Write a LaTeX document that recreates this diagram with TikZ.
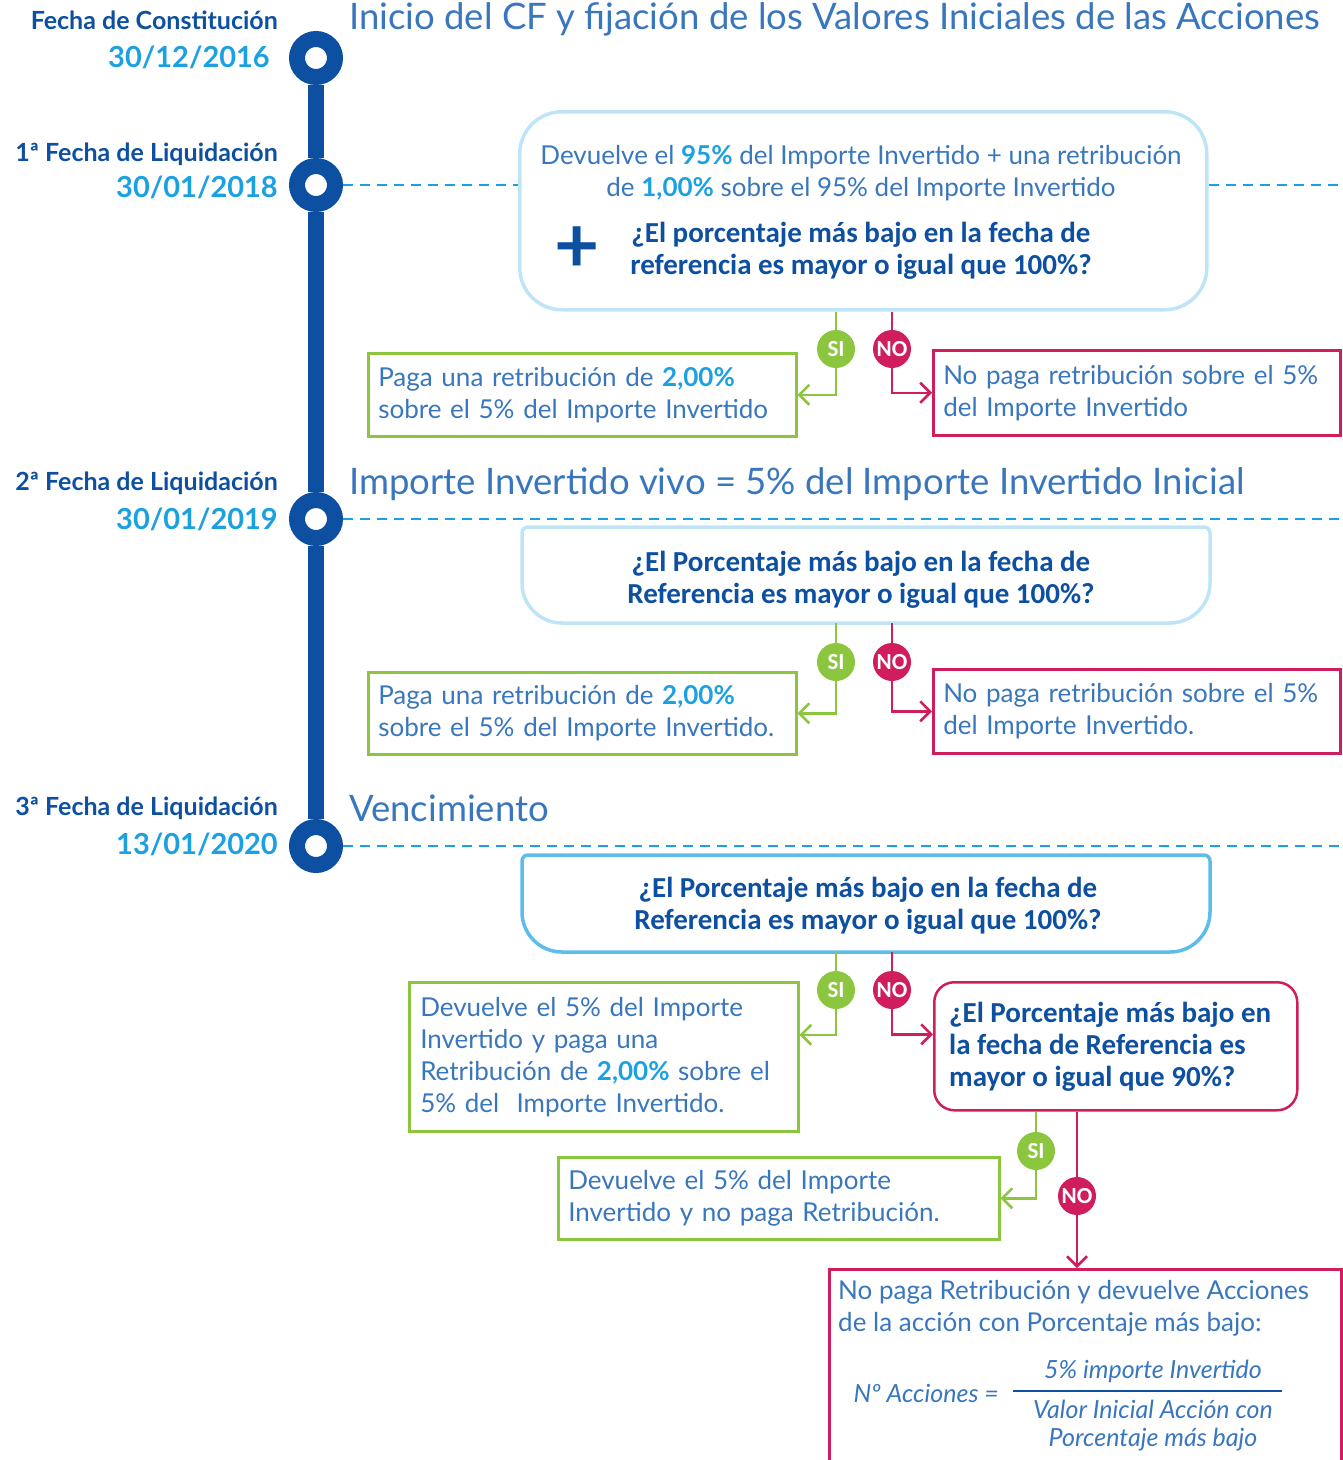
\documentclass[tikz,border=0pt]{standalone}
\usepackage{fontspec}
\setmainfont{Lato}
\newfontfamily\qf{Carlito}
\usetikzlibrary{arrows.meta}
\definecolor{dblue}{HTML}{0D4FA0}
\definecolor{tblue}{HTML}{3876BE}
\definecolor{cyanb}{HTML}{1BA1E2}
\definecolor{lbox}{HTML}{BEE5F7}
\definecolor{mboxc}{HTML}{5DBDEA}
\definecolor{gr}{HTML}{8CC63E}
\definecolor{mg}{HTML}{CF1D5E}
\begin{document}
\begin{tikzpicture}[x=1pt,y=1pt,
  tcirc/.style={circle, fill=white, draw=dblue, line width=16pt, minimum size=38pt, inner sep=0},
  tline/.style={dblue, line width=16pt},
  dline/.style={cyanb, line width=2.5pt, dash pattern=on 10pt off 7pt},
  lab/.style={font=\bfseries\fontsize{25}{25}\selectfont, text=dblue, inner sep=0},
  datel/.style={font=\bfseries\fontsize{29}{29}\selectfont, text=cyanb, inner sep=0},
  ttl/.style={font=\fontsize{36.5}{36.5}\selectfont, text=tblue, inner sep=0},
  body/.style={font=\fontsize{26}{32}\selectfont, text=tblue},
  qtext/.style={font=\qf\bfseries\fontsize{29}{32}\selectfont, text=dblue},
  ftext/.style={font=\itshape\fontsize{25}{28}\selectfont, text=tblue, inner sep=0},
  badge/.style={circle, fill=#1, minimum size=38pt, inner sep=0, text=white, font=\qf\bfseries\fontsize{23}{23}\selectfont},
  gbox/.style={draw=gr, line width=2.5pt, body, align=left, anchor=north west, inner ysep=0},
  mbox/.style={draw=mg, line width=2.5pt, body, align=left, anchor=north west, inner ysep=0},
  gl/.style={gr, line width=2.5pt},
  ml/.style={mg, line width=2.5pt},
  garr/.style={gl, -{Straight Barb[length=10pt,width=20pt]}},
  marr/.style={ml, -{Straight Barb[length=10pt,width=20pt]}}
]
\useasboundingbox (0,0) rectangle (1343,-1460);

% ---------- timeline ----------
\node[tcirc] (c1) at (316,-58) {};
\node[tcirc] (c2) at (316,-185) {};
\node[tcirc] (c3) at (316,-519) {};
\node[tcirc] (c4) at (316,-846) {};
\draw[tline] (c1) -- (c2);
\draw[tline] (c2) -- (c3);
\draw[tline] (c3) -- (c4);

\node[lab, anchor=east] (l1) at (278,-20) {Fecha de Constitución};
\node[datel, anchor=east] (d1) at (270,-57) {30/12/2016};
\node[lab, anchor=east] (l2) at (278,-154) {1ª Fecha de Liquidación};
\node[datel, anchor=east] (d2) at (278,-187) {30/01/2018};
\node[lab, anchor=east] (l3) at (278,-483) {2ª Fecha de Liquidación};
\node[datel, anchor=east] (d3) at (278,-519) {30/01/2019};
\node[lab, anchor=east] (l4) at (278,-808) {3ª Fecha de Liquidación};
\node[datel, anchor=east] (d4) at (278,-844) {13/01/2020};

% ---------- titles ----------
\node[ttl, anchor=west] (t1) at (349,-19) {Inicio del CF y fijación de los Valores Iniciales de las Acciones};
\node[ttl, anchor=west] (t2) at (349,-484) {Importe Invertido vivo = 5\% del Importe Invertido Inicial};
\node[ttl, anchor=west] (t3) at (349,-808) {Vencimiento};

% ---------- box 1 ----------
\node[draw=lbox, line width=3.5pt, rounded corners=42pt, minimum width=687pt, minimum height=198pt, anchor=north west] (b1) at (518,-110) {};
\node[body, align=center, inner sep=0] (b1t) at (861,-173) {Devuelve el {\color{cyanb}\bfseries 95\%} del Importe Invertido + una retribución\\de {\color{cyanb}\bfseries 1,00\%} sobre el 95\% del Importe Invertido};
\node[qtext, align=center, inner sep=0] (b1q) at (861,-251) {¿El porcentaje más bajo en la fecha de\\referencia es mayor o igual que 100\%?};
\node[font=\bfseries\fontsize{78}{78}\selectfont, text=dblue, inner sep=0] (plus) at (577,-250) {+};

\coordinate (r1) at (1343,-185);
\draw[dline] (c2) -- (b1.west |- c2);
\draw[dline] (b1.east |- c2) -- (r1);

\node[badge=gr] (si1) at (836,-349) {SI};
\node[badge=mg] (no1) at (892,-349) {NO};
\node[gbox, text width=408pt, inner xsep=10pt, minimum height=83pt] (g1) at (367,-352) {Paga una retribución de {\color{cyanb}\bfseries 2,00\%}\\sobre el 5\% del Importe Invertido};
\node[mbox, text width=387pt, inner xsep=10pt, minimum height=85pt] (m1) at (932,-349) {No paga retribución sobre el 5\%\\del Importe Invertido};
\draw[gl] (si1 |- b1.south) -- (si1);
\draw[ml] (no1 |- b1.south) -- (no1);
\draw[garr] (si1) |- (g1.east);
\draw[marr] (no1) |- (m1.west);

% ---------- box 2 ----------
\coordinate (r2) at (1343,-519);
\draw[dline] (c3) -- (r2);
\node[minimum width=688pt, minimum height=96pt, anchor=north west, inner sep=0] (b2) at (522,-527) {};
\draw[lbox, line width=3.5pt] (528,-527) -- (1204,-527) arc[start angle=90,end angle=0,radius=6] -- (1210,-583) arc[start angle=0,end angle=-90,radius=40] -- (562,-623) arc[start angle=270,end angle=180,radius=40] -- (522,-533) arc[start angle=180,end angle=90,radius=6] -- cycle;
\node[qtext, align=center, inner sep=0] (b2q) at (861,-580) {¿El Porcentaje más bajo en la fecha de\\Referencia es mayor o igual que 100\%?};

\node[badge=gr] (si2) at (836,-662) {SI};
\node[badge=mg] (no2) at (892,-662) {NO};
\node[gbox, text width=408pt, inner xsep=10pt, minimum height=82pt] (g2) at (367,-671) {Paga una retribución de {\color{cyanb}\bfseries 2,00\%}\\sobre el 5\% del Importe Invertido.};
\node[mbox, text width=387pt, inner xsep=10pt, minimum height=84pt] (m2) at (932,-668) {No paga retribución sobre el 5\%\\del Importe Invertido.};
\draw[gl] (si2 |- b2.south) -- (si2);
\draw[ml] (no2 |- b2.south) -- (no2);
\draw[garr] (si2) |- (g2.east);
\draw[marr] (no2) |- (m2.west);

% ---------- box 3 ----------
\coordinate (r3) at (1343,-846);
\draw[dline] (c4) -- (r3);
\node[minimum width=688pt, minimum height=97pt, anchor=north west, inner sep=0] (b3) at (522,-855) {};
\draw[mboxc, line width=3.5pt] (528,-855) -- (1204,-855) arc[start angle=90,end angle=0,radius=6] -- (1210,-912) arc[start angle=0,end angle=-90,radius=40] -- (562,-952) arc[start angle=270,end angle=180,radius=40] -- (522,-861) arc[start angle=180,end angle=90,radius=6] -- cycle;
\node[qtext, align=center, inner sep=0] (b3q) at (868,-906) {¿El Porcentaje más bajo en la fecha de\\Referencia es mayor o igual que 100\%?};

\node[badge=gr] (si3) at (836,-990) {SI};
\node[badge=mg] (no3) at (892,-990) {NO};
\node[gbox, text width=367pt, inner xsep=11pt, minimum height=149pt] (g3) at (408,-981) {Devuelve el 5\% del Importe\\Invertido y paga una\\Retribución de {\color{cyanb}\bfseries 2,00\%} sobre el\\5\% del\ \ Importe Invertido.};
\node[draw=mg, line width=2.5pt, rounded corners=20pt, minimum width=363pt, minimum height=128pt, anchor=north west, inner sep=0] (mq) at (933,-981) {};
\node[qtext, align=left, anchor=west, inner sep=0] (mqt) at (949,-1047) {¿El Porcentaje más bajo en\\la fecha de Referencia es\\mayor o igual que 90\%?};
\draw[gl] (si3 |- b3.south) -- (si3);
\draw[ml] (no3 |- b3.south) -- (no3);
\draw[garr] (si3) |- ([yshift=22pt]g3.east);
\draw[marr] (no3) |- ([yshift=12pt]mq.west);

% ---------- last level ----------
\node[badge=gr] (si4) at (1036,-1151) {SI};
\node[badge=mg] (no4) at (1077,-1196) {NO};
\node[gbox, text width=421pt, inner xsep=10pt, minimum height=82pt] (g4) at (557,-1156) {Devuelve el 5\% del Importe\\Invertido y no paga Retribución.};
\node[draw=mg, line width=2.5pt, minimum width=512pt, minimum height=230pt, anchor=north west, inner sep=0] (mf) at (828,-1268) {};
\draw[gl] (si4 |- mq.south) -- (si4);
\draw[ml] (no4 |- mq.south) -- (no4);
\draw[garr] (si4) |- (g4.east);
\draw[marr] (no4) -- (no4 |- mf.north);

\node[body, align=left, anchor=north west, inner sep=0] (mft) at (838,-1280) {No paga Retribución y devuelve Acciones\\de la acción con Porcentaje más bajo:};
\node[ftext, anchor=east] (nacc) at (999,-1393) {Nº Acciones =};
\node[ftext] (num) at (1153,-1371) {5\% importe Invertido};
\node[ftext, align=center] (den) at (1153,-1426) {Valor Inicial Acción con\\Porcentaje más bajo};
\coordinate (fb1) at (1013,-1391);
\coordinate (fb2) at (1282,-1391);
\draw[dblue, line width=2.5pt] (fb1) -- (fb2);
\end{tikzpicture}
\end{document}
